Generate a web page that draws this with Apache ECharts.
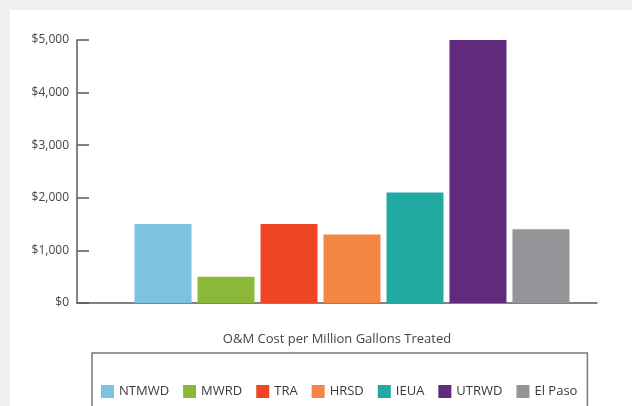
<!DOCTYPE html>
<html>
<head>
<meta charset="utf-8">
<style>html,body{margin:0;padding:0;background:#efefef;}#c{width:632px;height:406px;}</style>
<script src="https://cdn.jsdelivr.net/npm/echarts@6/dist/echarts.min.js"></script>
</head>
<body>
<div id="c"></div>
<script>
const utilities = ['NTMWD', 'MWRD', 'TRA', 'HRSD', 'IEUA', 'UTRWD', 'El Paso'];
const costs = [1500, 500, 1500, 1300, 2100, 5000, 1400];
const colors = ['#7cc3e0', '#8cb83a', '#ee4625', '#f58542', '#21aaa1', '#612a7c', '#939598'];
const yTicks = [0, 1000, 2000, 3000, 4000, 5000];
const xTitle = 'O&M Cost per Million Gallons Treated';

const chart = echarts.init(document.getElementById('c'), null, {renderer: 'canvas'});
const fontFam = 'Open Sans, Noto Sans, sans-serif';
chart.setOption({
  backgroundColor: '#efefef',
  animation: false,
  graphic: [{type: 'rect', z: -10, silent: true, shape: {x: 10, y: 10, width: 622, height: 396}, style: {fill: '#ffffff'}}],
  grid: [
    {left: 77, right: 35, top: 40, bottom: 103},
    {left: 107, right: 35, top: 40, bottom: 103}
  ],
  xAxis: [
    {gridIndex: 0, type: 'category', data: [''], axisTick: {show: false}, axisLabel: {show: false},
     axisLine: {lineStyle: {color: '#5a5a5a', width: 1.5}},
     name: xTitle, nameLocation: 'middle', nameGap: 30,
     nameTextStyle: {fontSize: 13, color: '#444', fontFamily: fontFam}},
    {gridIndex: 1, type: 'category', data: [''], show: false}
  ],
  yAxis: [
    {gridIndex: 0, type: 'value', min: yTicks[0], max: yTicks[yTicks.length - 1], interval: 1000,
     axisLine: {show: true, lineStyle: {color: '#5a5a5a', width: 1.5}},
     axisTick: {show: true, inside: true, length: 12, lineStyle: {color: '#5a5a5a', width: 1.5}},
     splitLine: {show: false},
     axisLabel: {margin: 8, fontSize: 12, color: '#444', fontFamily: fontFam,
       formatter: v => '$' + v.toLocaleString('en-US')}},
    {gridIndex: 1, type: 'value', min: yTicks[0], max: yTicks[yTicks.length - 1], interval: 1000, show: false}
  ],
  legend: {
    left: 92, top: 353, orient: 'horizontal', icon: 'rect',
    itemWidth: 13, itemHeight: 13, itemGap: 14,
    borderColor: '#777', borderWidth: 1.5, backgroundColor: '#fff',
    padding: [32, 10, 30, 9],
    textStyle: {fontSize: 13, color: '#3a3a3a', fontFamily: fontFam, padding: [0, 0, 0, 0]},
    data: utilities
  },
  series: utilities.map((name, i) => ({
    name: name, type: 'bar', xAxisIndex: 1, yAxisIndex: 1,
    barWidth: 57, barGap: '10.5%',
    itemStyle: {color: colors[i]},
    data: [costs[i]]
  }))
});
</script>
</body>
</html>
